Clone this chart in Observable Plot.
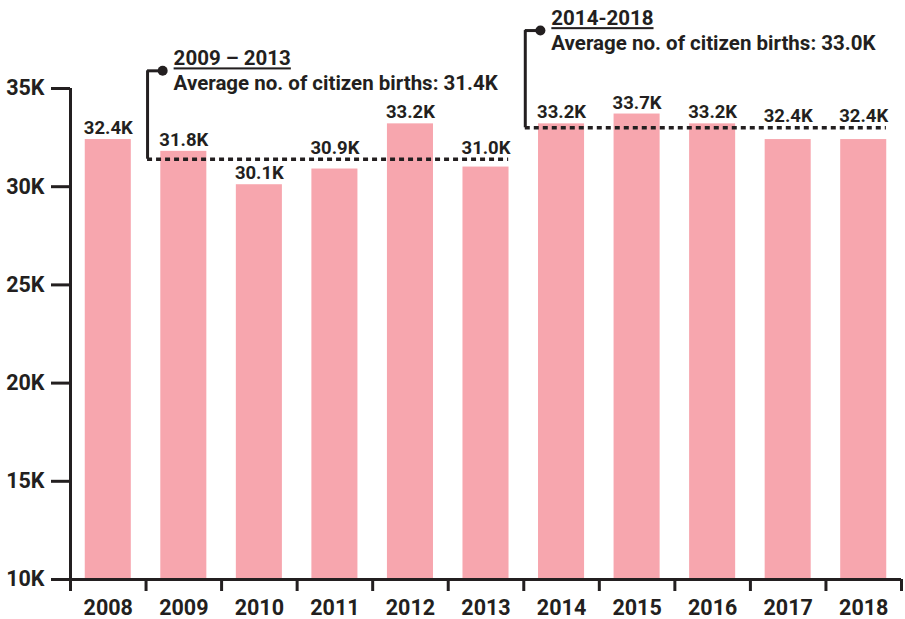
<!DOCTYPE html>
<html>
<head>
<meta charset="utf-8">
<script src="https://cdn.jsdelivr.net/npm/d3@7"></script>
<script src="https://cdn.jsdelivr.net/npm/@observablehq/plot@0.6"></script>
<style>
  html, body { margin: 0; padding: 0; background: #fff; }
  #chart svg { display: block; }
  .ann-title text, text.ann-title, .ann-title tspan { text-decoration: underline; }
</style>
</head>
<body>
<div id="chart"></div>
<script>
// ---- data ----
const years = [2008, 2009, 2010, 2011, 2012, 2013, 2014, 2015, 2016, 2017, 2018];
const births = [32400, 31800, 30100, 30900, 33200, 31000, 33200, 33700, 33200, 32400, 32400];
const yTicks = [10000, 15000, 20000, 25000, 30000, 35000];

const periodTitles = ["2009 – 2013", "2014-2018"];
const periodStart = [2009, 2014];
const periodEnd = [2013, 2018];
const periodAvg = [31400, 33000];
const periodLabelLevel = [35900, 37950]; // annotation callout level (data units)

// ---- derived tables ----
const periods = periodTitles.map((t, i) => ({
  title: t,
  start: periodStart[i],
  end: periodEnd[i],
  avg: periodAvg[i],
  level: periodLabelLevel[i],
  body: `Average no. of citizen births: ${(periodAvg[i] / 1000).toFixed(1)}K`
}));
const data = years.map((y, i) => {
  const v = births[i];
  const p = periods.find(p => y >= p.start && y <= p.end);
  // lift a value label above the average line when it would collide with it
  const lift = p && v < p.avg && p.avg - v < 1200;
  return {year: y, value: v, labelY: lift ? p.avg : v, lifted: !!lift};
});
const boundaries = [...years.map(y => y - 0.5), years[years.length - 1] + 0.5];

const ink = "#231f20";
const pink = "#f7a6ae";
const fontFamily = "Roboto, 'Noto Sans', sans-serif";
const kfmt = v => (v / 1000).toFixed(1) + "K";

const plot = Plot.plot({
  width: 905,
  height: 619,
  marginLeft: 70,
  marginRight: 4,
  marginTop: 88,
  marginBottom: 40,
  style: {fontFamily, color: ink, background: "#fff", overflow: "visible"},
  x: {type: "linear", domain: [years[0] - 0.5, years[years.length - 1] + 0.5]},
  y: {domain: [yTicks[0], yTicks[yTicks.length - 1]]},
  marks: [
    // bars
    Plot.rectY(data, {
      x1: d => d.year - 0.5,
      x2: d => d.year + 0.5,
      y1: yTicks[0],
      y2: "value",
      fill: pink,
      insetLeft: 14.75,
      insetRight: 14.75
    }),
    // bar labels
    Plot.text(data, {
      x: "year",
      y: "labelY",
      text: d => kfmt(d.value),
      lineAnchor: "bottom",
      dy: d => 0,
      fontSize: 18.5,
      fontWeight: "bold",
      fill: ink,
      dy: -5.5
    }),
    // y axis
    Plot.axisY({
      ticks: yTicks,
      tickFormat: d => d / 1000 + "K",
      tickSize: 19,
      tickPadding: 7,
      strokeWidth: 3,
      stroke: ink,
      fill: ink,
      fontSize: 21.5,
      fontWeight: "bold",
      label: null
    }),
    Plot.ruleX([years[0] - 0.5], {y1: yTicks[0], y2: yTicks[yTicks.length - 1], stroke: ink, strokeWidth: 3}),
    // x axis baseline
    Plot.ruleY([yTicks[0]], {stroke: ink, strokeWidth: 3}),
    // band boundary ticks
    Plot.axisX({
      ticks: boundaries,
      tickSize: 12,
      tickFormat: () => "",
      strokeWidth: 3,
      stroke: ink,
      label: null
    }),
    // year labels
    Plot.axisX({
      ticks: years,
      tickSize: 0,
      tickPadding: 20,
      tickFormat: d => String(d),
      fontSize: 21.5,
      fontWeight: "bold",
      fill: ink,
      label: null
    }),
    // average dotted lines
    Plot.ruleY(periods, {
      y: "avg",
      x1: d => d.start - 0.48,
      x2: d => d.end + 0.3,
      stroke: ink,
      strokeWidth: 3.5,
      strokeDasharray: "5,4"
    }),
    // bracket vertical
    Plot.ruleX(periods, {
      x: d => d.start - 0.48,
      y1: "avg",
      y2: "level",
      stroke: ink,
      strokeWidth: 3
    }),
    // bracket horizontal
    Plot.ruleY(periods, {
      y: "level",
      x1: d => d.start - 0.48,
      x2: d => d.start - 0.28,
      stroke: ink,
      strokeWidth: 3
    }),
    Plot.dot(periods, {
      x: d => d.start - 0.28,
      y: "level",
      r: 5,
      fill: ink,
      stroke: null
    }),
    // annotation titles
    Plot.text(periods, {
      x: d => d.start - 0.135,
      y: "level",
      text: "title",
      textAnchor: "start",
      dy: -12,
      fontSize: 20.5,
      fontWeight: "bold",
      fill: ink,
      ariaLabel: "annotation-title"
    }),
    // annotation body
    Plot.text(periods, {
      x: d => d.start - 0.135,
      y: "level",
      text: "body",
      textAnchor: "start",
      dy: 13,
      fontSize: 20.5,
      fontWeight: "bold",
      fill: ink
    })
  ]
});

document.getElementById("chart").append(plot);

// underline the period titles
d3.select(plot).selectAll("text").each(function () {
  if (periodTitles.includes(this.textContent)) {
    this.classList.add("ann-title");
    this.setAttribute("text-decoration", "underline");
    this.style.textDecoration = "underline";
  }
});
</script>
</body>
</html>
